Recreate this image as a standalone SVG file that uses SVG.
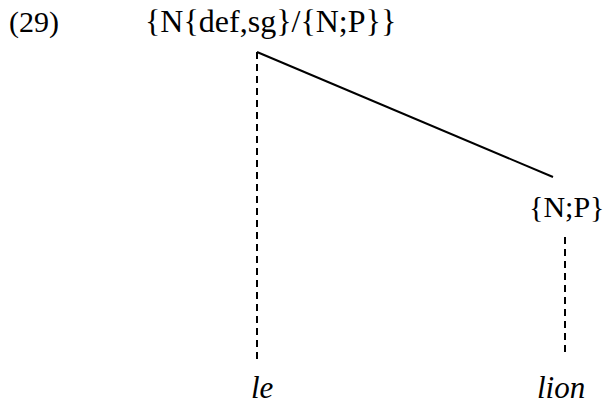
<svg xmlns="http://www.w3.org/2000/svg" width="608" height="408" viewBox="0 0 608 408">
<style>
.solid{stroke:#000;stroke-width:2;fill:none}
.dash{stroke:#000;stroke-width:2;fill:none;stroke-dasharray:7,5}
</style>
<rect width="608" height="408" fill="#fff"/>
<text x="9" y="32" font-family="Liberation Serif" font-size="30">(29)</text>
<g id="root"><text x="145" y="32" font-family="Liberation Serif" font-size="32">{N{def,sg}/{N;P}}</text></g>
<g id="np"><text x="529" y="217" font-family="Liberation Serif" font-size="30">{N;P}</text></g>
<g id="le"><text x="251" y="398" font-family="Liberation Serif" font-style="italic" font-size="31">le</text></g>
<g id="lion"><text x="537" y="398" font-family="Liberation Serif" font-style="italic" font-size="31">lion</text></g>
<g id="connectors">
<line class="solid" x1="257" y1="52" x2="553" y2="177"/>
<line class="dash" x1="257" y1="52" x2="257" y2="360"/>
<line class="dash" x1="565" y1="237" x2="565" y2="356"/>
</g>
</svg>
